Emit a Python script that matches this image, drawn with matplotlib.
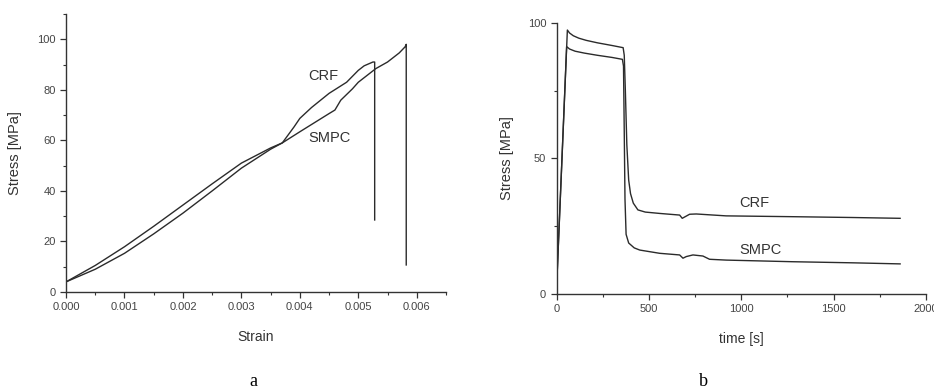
import matplotlib
matplotlib.use("Agg")
import matplotlib.pyplot as plt
from matplotlib.ticker import MultipleLocator

plt.rcParams['font.family'] = ['Liberation Sans', 'DejaVu Sans']

# (a) tensile test: stress vs strain
crf_strain = [0.0, 0.0005, 0.001, 0.0015, 0.002, 0.0025, 0.003, 0.0035, 0.0037,
              0.0039, 0.004, 0.0042, 0.0045, 0.0048, 0.005, 0.0051, 0.00525,
              0.00528, 0.00528]
crf_stress = [4.0, 9.0, 15.3, 23.0, 31.2, 40.0, 49.0, 56.5, 59.0,
              65.3, 68.7, 73.0, 78.6, 83.0, 87.7, 89.5, 91.0,
              91.0, 28.5]
smpc_strain = [0.0, 0.0005, 0.001, 0.0015, 0.002, 0.0025, 0.003, 0.0035, 0.0037,
               0.004, 0.0045, 0.0046, 0.0047, 0.0049, 0.005, 0.0053, 0.0055,
               0.0057, 0.0058, 0.00582, 0.00582]
smpc_stress = [4.0, 10.5, 17.9, 26.0, 34.4, 42.8, 51.0, 57.0, 59.0,
               63.4, 70.6, 72.0, 75.9, 80.4, 83.0, 88.4, 91.0,
               94.6, 97.0, 98.0, 10.7]

# (b) relaxation test: stress vs time
crf_time = [0, 3, 58, 70, 90, 120, 160, 220, 300, 360, 366, 372, 380, 390, 400,
            415, 440, 480, 558, 666, 680, 720, 756, 918, 1278, 1600, 1860]
crf_relax = [0, 8, 97.3, 96.2, 95.2, 94.3, 93.5, 92.6, 91.6, 90.8, 88.0, 75.0,
             55.0, 42.0, 37.0, 33.5, 31.0, 30.2, 29.7, 29.1, 27.9, 29.4, 29.5,
             28.8, 28.5, 28.2, 27.9]
smpc_time = [0, 3, 54, 70, 100, 150, 220, 300, 356, 362, 366, 370, 376, 390,
             420, 450, 558, 666, 684, 702, 738, 792, 828, 918, 1278, 1600, 1860]
smpc_relax = [0, 8, 91.2, 90.3, 89.5, 88.8, 88.0, 87.2, 86.5, 84.0, 60.0, 35.0,
              22.0, 18.8, 17.0, 16.2, 15.0, 14.4, 13.2, 13.8, 14.4, 14.0, 12.8,
              12.5, 11.9, 11.5, 11.1]

line_col = '#2b2b2b'
tick_col = '#444444'

fig = plt.figure(figsize=(9.34, 3.89), dpi=100)
ax1 = fig.add_axes([0.0707, 0.2494, 0.4068, 0.7146])
ax2 = fig.add_axes([0.596, 0.2442, 0.3954, 0.6974])

for ax in (ax1, ax2):
    ax.spines['top'].set_visible(False)
    ax.spines['right'].set_visible(False)
    for s in ('left', 'bottom'):
        ax.spines[s].set_color('#333333')
        ax.spines[s].set_linewidth(1.0)
    ax.tick_params(which='major', direction='out', length=4, width=0.9,
                   colors='#333333', labelcolor=tick_col, labelsize=8)
    ax.tick_params(which='minor', direction='out', length=2.5, width=0.8,
                   colors='#333333')

# panel a
ax1.plot(crf_strain, crf_stress, color=line_col, lw=1.0)
ax1.plot(smpc_strain, smpc_stress, color=line_col, lw=1.0)
ax1.set_xlim(0, 0.0065)
ax1.set_ylim(0, 110)
ax1.xaxis.set_major_locator(MultipleLocator(0.001))
ax1.xaxis.set_minor_locator(MultipleLocator(0.0005))
ax1.yaxis.set_major_locator(MultipleLocator(20))
ax1.yaxis.set_minor_locator(MultipleLocator(10))
ax1.set_xticks([0, 0.001, 0.002, 0.003, 0.004, 0.005, 0.006])
ax1.set_xticklabels(['0.000', '0.001', '0.002', '0.003', '0.004', '0.005', '0.006'])
ax1.set_yticks([0, 20, 40, 60, 80, 100])
ax1.set_xlabel('Strain', fontsize=10, color='#333333')
ax1.set_ylabel('Stress [MPa]', fontsize=10.5, color='#333333')
ax1.xaxis.set_label_coords(0.5, -0.135)
ax1.yaxis.set_label_coords(-0.115, 0.5)
ax1.text(0.00414, 85.4, 'CRF', fontsize=10.5, color='#333333', va='center')
ax1.text(0.00414, 61, 'SMPC', fontsize=10.5, color='#333333', va='center')

# panel b
ax2.plot(crf_time, crf_relax, color=line_col, lw=1.0)
ax2.plot(smpc_time, smpc_relax, color=line_col, lw=1.0)
ax2.set_xlim(0, 2000)
ax2.set_ylim(0, 100)
ax2.xaxis.set_major_locator(MultipleLocator(500))
ax2.xaxis.set_minor_locator(MultipleLocator(250))
ax2.yaxis.set_major_locator(MultipleLocator(50))
ax2.yaxis.set_minor_locator(MultipleLocator(25))
ax2.set_xlabel('time [s]', fontsize=10, color='#333333')
ax2.set_ylabel('Stress [MPa]', fontsize=10.5, color='#333333')
ax2.xaxis.set_label_coords(0.5, -0.14)
ax2.yaxis.set_label_coords(-0.115, 0.5)
ax2.text(990, 33.5, 'CRF', fontsize=10.5, color='#333333', va='center')
ax2.text(990, 16.2, 'SMPC', fontsize=10.5, color='#333333', va='center')

fig.text(253 / 934, 1 - 381 / 389, 'a', family=['Liberation Serif', 'DejaVu Serif'],
         fontsize=13, ha='center', va='center')
fig.text(703 / 934, 1 - 381 / 389, 'b', family=['Liberation Serif', 'DejaVu Serif'],
         fontsize=13, ha='center', va='center')

fig.savefig('out.png', dpi=100)
